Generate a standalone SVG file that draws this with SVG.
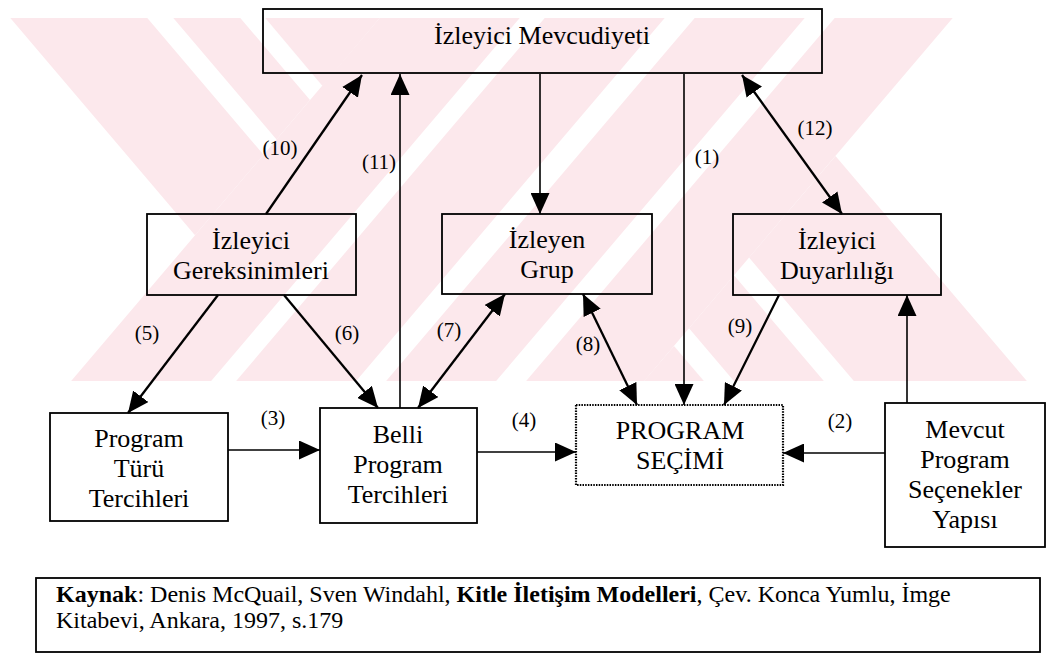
<svg xmlns="http://www.w3.org/2000/svg" width="1047" height="655" viewBox="0 0 1047 655">
  <style>
    .box { fill: none; stroke: #000; stroke-width: 1.8; }
    .dotted { fill: none; stroke: #000; stroke-width: 2.2; stroke-dasharray: 1.5 1.2; }
    text { font-family: 'Liberation Serif', 'DejaVu Serif', serif; fill: #000; }
    .t { font-size: 26px; text-anchor: middle; }
    .lbl { font-size: 21px; text-anchor: middle; }
    .cap { font-size: 24px; }
    .b { font-weight: bold; }
    .thick { stroke: #000; stroke-width: 2.3; fill: none; }
    .thin { stroke: #000; stroke-width: 1.6; fill: none; }
    .wm { fill: #fce8ec; }
  </style>
  <defs>
    <marker id="ah" viewBox="0 0 21 19" refX="21" refY="9.5" markerWidth="21" markerHeight="19" markerUnits="userSpaceOnUse" orient="auto-start-reverse">
      <path d="M0,0 L21,9.5 L0,19 z" fill="#000"/>
    </marker>
  </defs>

  <rect width="1047" height="655" fill="#fff"/>

  <!-- background chevron band -->
  <g id="watermark">
    <!-- rising stripes -->
    <polygon class="wm" points="379.7,18 519.7,18 211.15,381 71.15,381"/>
    <polygon class="wm" points="544.7,18 664.7,18 356.15,381 236.15,381"/>
    <polygon class="wm" points="694.7,18 804.7,18 496.15,381 386.15,381"/>
    <polygon class="wm" points="834.7,18 952.7,18 644.15,381 526.15,381"/>
    <!-- upper-left falling stripes -->
    <polygon class="wm" points="10.3,18 147.3,18 263.5,154.7 195,235.3"/>
    <polygon class="wm" points="173.3,18 240.3,18 310,100 276.5,139.4"/>
    <polygon class="wm" points="265.3,18 379.7,18 322.5,85.9"/>
    <!-- lower-right falling stripes -->
    <polygon class="wm" points="644,381 703.85,381 674,345.9"/>
    <polygon class="wm" points="733.85,381 823.85,381 734,275.3 689,328.2"/>
    <polygon class="wm" points="853.85,381 1026.85,381 835.5,155.9 749,257.6"/>
  </g>

  <!-- connectors -->
  <g id="connectors">
    <line class="thick" x1="266" y1="214" x2="362" y2="75" marker-end="url(#ah)"/>
    <line class="thin" x1="400" y1="408" x2="400" y2="74" marker-end="url(#ah)"/>
    <line class="thin" x1="540" y1="74" x2="540" y2="214" marker-end="url(#ah)"/>
    <line class="thin" x1="684" y1="74" x2="684" y2="405" marker-end="url(#ah)"/>
    <line class="thick" x1="742" y1="75" x2="842" y2="214" marker-start="url(#ah)" marker-end="url(#ah)"/>
    <line class="thick" x1="218" y1="295" x2="128" y2="413" marker-end="url(#ah)"/>
    <line class="thick" x1="284" y1="295" x2="378" y2="408" marker-end="url(#ah)"/>
    <line class="thick" x1="418" y1="408" x2="505" y2="294" marker-start="url(#ah)" marker-end="url(#ah)"/>
    <line class="thick" x1="583" y1="294" x2="637" y2="405" marker-start="url(#ah)" marker-end="url(#ah)"/>
    <line class="thick" x1="779" y1="295" x2="724" y2="405" marker-end="url(#ah)"/>
    <line class="thin" x1="907" y1="403" x2="907" y2="295" marker-end="url(#ah)"/>
    <line class="thin" x1="228" y1="450" x2="320" y2="450" marker-end="url(#ah)"/>
    <line class="thin" x1="477" y1="452" x2="576" y2="452" marker-end="url(#ah)"/>
    <line class="thin" x1="885" y1="453" x2="783" y2="453" marker-end="url(#ah)"/>

    <text class="lbl" x="280" y="155">(10)</text>
    <text class="lbl" x="379" y="169">(11)</text>
    <text class="lbl" x="707" y="164">(1)</text>
    <text class="lbl" x="815" y="135">(12)</text>
    <text class="lbl" x="147" y="340">(5)</text>
    <text class="lbl" x="347" y="340">(6)</text>
    <text class="lbl" x="449" y="337">(7)</text>
    <text class="lbl" x="588" y="351">(8)</text>
    <text class="lbl" x="740" y="333">(9)</text>
    <text class="lbl" x="273" y="425">(3)</text>
    <text class="lbl" x="524" y="427">(4)</text>
    <text class="lbl" x="840" y="428">(2)</text>
  </g>

  <g id="izleyici-mevcudiyeti">
    <rect class="box" x="263" y="9" width="559" height="64"/>
    <text class="t" x="542" y="44">İzleyici Mevcudiyeti</text>
  </g>

  <g id="izleyici-gereksinimleri">
    <rect class="box" x="147" y="214" width="209" height="81"/>
    <text class="t" x="251" y="249">İzleyici</text>
    <text class="t" x="251" y="279">Gereksinimleri</text>
  </g>

  <g id="izleyen-grup">
    <rect class="box" x="442" y="214" width="210" height="80"/>
    <text class="t" x="547" y="248">İzleyen</text>
    <text class="t" x="547" y="278">Grup</text>
  </g>

  <g id="izleyici-duyarliligi">
    <rect class="box" x="733" y="214" width="208" height="81"/>
    <text class="t" x="837" y="249">İzleyici</text>
    <text class="t" x="837" y="279">Duyarlılığı</text>
  </g>

  <g id="program-turu-tercihleri">
    <rect class="box" x="50" y="413" width="178" height="108"/>
    <text class="t" x="139" y="447">Program</text>
    <text class="t" x="139" y="477">Türü</text>
    <text class="t" x="139" y="507">Tercihleri</text>
  </g>

  <g id="belli-program-tercihleri">
    <rect class="box" x="320" y="408" width="157" height="115"/>
    <text class="t" x="398" y="443">Belli</text>
    <text class="t" x="398" y="473">Program</text>
    <text class="t" x="398" y="503">Tercihleri</text>
  </g>

  <g id="program-secimi">
    <rect class="dotted" x="576" y="405" width="207" height="80"/>
    <text class="t" x="680" y="439">PROGRAM</text>
    <text class="t" x="680" y="469">SEÇİMİ</text>
  </g>

  <g id="mevcut-program-secenekler-yapisi">
    <rect class="box" x="885" y="403" width="160" height="144"/>
    <text class="t" x="965" y="438">Mevcut</text>
    <text class="t" x="965" y="468">Program</text>
    <text class="t" x="965" y="498">Seçenekler</text>
    <text class="t" x="965" y="528">Yapısı</text>
  </g>

  <g id="kaynak">
    <rect class="box" x="36" y="578" width="1004" height="74"/>
    <text class="cap" x="56" y="602"><tspan class="b">Kaynak</tspan>: Denis McQuail, Sven Windahl, <tspan class="b">Kitle İletişim Modelleri</tspan>, Çev. Konca Yumlu, İmge</text>
    <text class="cap" x="56" y="628">Kitabevi, Ankara, 1997, s.179</text>
  </g>
</svg>
